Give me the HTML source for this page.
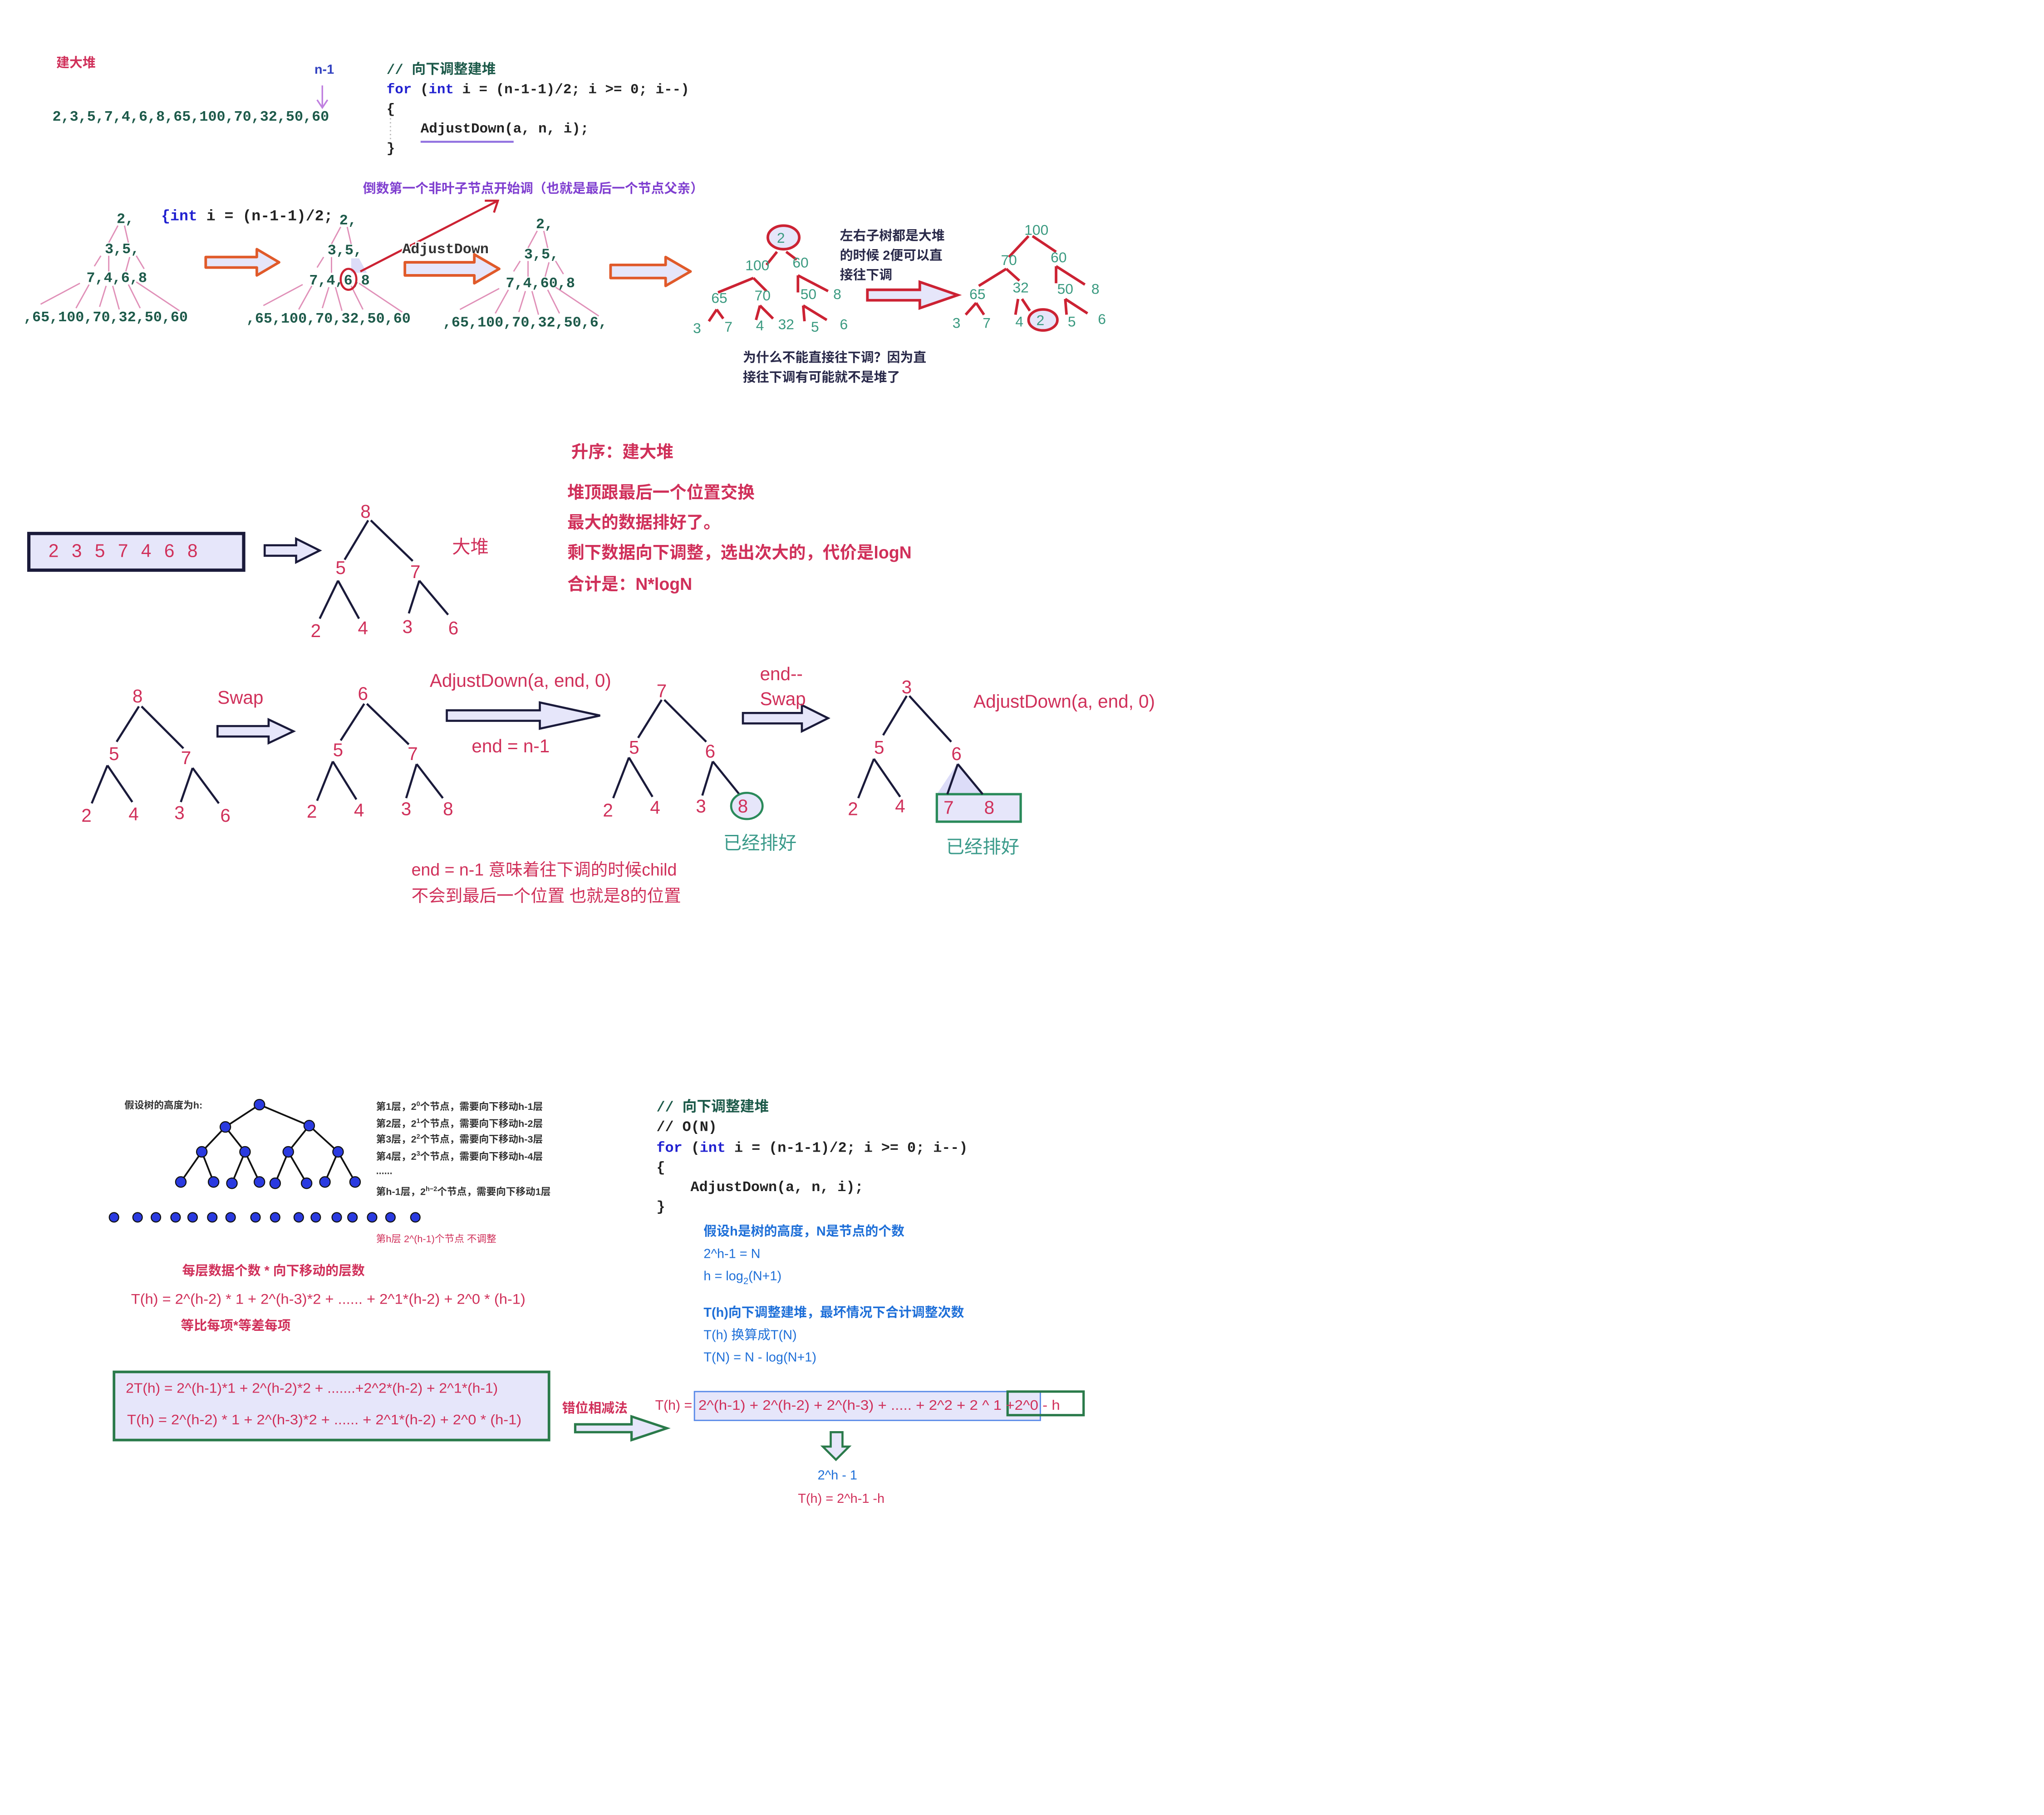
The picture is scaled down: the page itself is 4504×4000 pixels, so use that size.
<!DOCTYPE html>
<html><head><meta charset="utf-8">
<style>
html,body{margin:0;padding:0;background:#fff;}
svg{display:block;}
.m{font-family:"Liberation Mono","Noto Sans CJK SC",monospace;}
.s{font-family:"Liberation Sans","Noto Sans CJK SC",sans-serif;}
</style></head>
<body>
<svg width="4504" height="4000" viewBox="0 0 1560 1385" xmlns="http://www.w3.org/2000/svg">
<rect width="1560" height="1385" fill="#fff"/>

<!-- ===== TOP SECTION ===== -->
<text x="43" y="51" class="s" font-size="10" font-weight="bold" fill="#d0305a">建大堆</text>
<text x="240" y="56" class="s" font-size="10" font-weight="bold" fill="#3040c0">n-1</text>
<line x1="246" y1="65" x2="246" y2="82" stroke="#c080e0" stroke-width="1.2"/>
<polyline points="242,76 246,82 250,76" fill="none" stroke="#c080e0" stroke-width="1.2"/>
<text x="40" y="92" class="m" font-size="11" font-weight="bold" fill="#1d5a4a">2,3,5,7,4,6,8,65,100,70,32,50,60</text>

<g class="m" font-size="10.7" font-weight="bold">
<text x="295" y="56" fill="#1d5a4a">// 向下调整建堆</text>
<text x="295" y="71"><tspan fill="#2020d0">for</tspan><tspan fill="#222"> (</tspan><tspan fill="#2020d0">int</tspan><tspan fill="#222"> i = (n-1-1)/2; i &gt;= 0; i--)</tspan></text>
<text x="295" y="86" fill="#222">{</text>
<text x="321" y="101" fill="#222">AdjustDown(a, n, i);</text>
<text x="295" y="116" fill="#222">}</text>
</g>
<line x1="298" y1="90" x2="298" y2="108" stroke="#bbb" stroke-dasharray="1,2"/>
<line x1="321" y1="108" x2="392" y2="108" stroke="#9070e0" stroke-width="1.5"/>

<text x="277" y="147" class="s" font-size="10" font-weight="bold" fill="#8040d0">倒数第一个非叶子节点开始调（也就是最后一个节点父亲）</text>
<text x="123" y="168" class="m" font-size="11.5" font-weight="bold"><tspan fill="#2020d0">{int</tspan><tspan fill="#222"> i = (n-1-1)/2;</tspan></text>

<!-- tree 1 -->
<g>
<g stroke="#e090b8" stroke-width="1">
<line x1="90" y1="172" x2="83" y2="185"/><line x1="95" y1="172" x2="98" y2="185"/>
<line x1="77" y1="195" x2="72" y2="203"/><line x1="83" y1="195" x2="83" y2="207"/>
<line x1="99" y1="196" x2="96" y2="207"/><line x1="104" y1="195" x2="110" y2="205"/>
<line x1="61" y1="216" x2="31" y2="232"/><line x1="68" y1="217" x2="58" y2="235"/>
<line x1="81" y1="218" x2="76" y2="234"/><line x1="86" y1="218" x2="91" y2="236"/>
<line x1="98" y1="217" x2="107" y2="235"/><line x1="104" y1="215" x2="137" y2="237"/>
</g>
<g class="m" font-size="11" font-weight="bold" fill="#1d5a4a">
<text x="89" y="170">2,</text>
<text x="80" y="193">3,5,</text>
<text x="66" y="215">7,4,6,8</text>
<text x="18" y="245">,65,100,70,32,50,60</text>
</g>
</g>
<!-- tree 2 -->
<g transform="translate(170,1)">
<g stroke="#e090b8" stroke-width="1">
<line x1="90" y1="172" x2="83" y2="185"/><line x1="95" y1="172" x2="98" y2="185"/>
<line x1="77" y1="195" x2="72" y2="203"/><line x1="83" y1="195" x2="83" y2="207"/>
<line x1="61" y1="216" x2="31" y2="232"/><line x1="68" y1="217" x2="58" y2="235"/>
<line x1="81" y1="218" x2="76" y2="234"/><line x1="86" y1="218" x2="91" y2="236"/>
<line x1="98" y1="217" x2="107" y2="235"/><line x1="104" y1="215" x2="137" y2="237"/>
</g>
<polygon points="98,196 104,196 110,207 98,207" fill="#dcdcf8"/>
<g class="m" font-size="11" font-weight="bold" fill="#1d5a4a">
<text x="89" y="170">2,</text>
<text x="80" y="193">3,5,</text>
<text x="66" y="216">7,4,6,8</text>
<text x="18" y="245">,65,100,70,32,50,60</text>
</g>
<ellipse cx="96" cy="212" rx="6" ry="8" fill="none" stroke="#cc2233" stroke-width="1.6"/>
</g>
<line x1="275" y1="207" x2="380" y2="153" stroke="#cc2233" stroke-width="1.6"/>
<polyline points="370,153 380,153 377,162" fill="none" stroke="#cc2233" stroke-width="1.6"/>
<text x="307" y="193" class="m" font-size="11" font-weight="bold" fill="#333" stroke="#fff" stroke-width="2" paint-order="stroke">AdjustDown</text>
<!-- tree 3 -->
<g transform="translate(320,4)">
<g stroke="#e090b8" stroke-width="1">
<line x1="90" y1="172" x2="83" y2="185"/><line x1="95" y1="172" x2="98" y2="185"/>
<line x1="77" y1="195" x2="72" y2="203"/><line x1="83" y1="195" x2="83" y2="207"/>
<line x1="99" y1="196" x2="96" y2="207"/><line x1="104" y1="195" x2="110" y2="205"/>
<line x1="61" y1="216" x2="31" y2="232"/><line x1="68" y1="217" x2="58" y2="235"/>
<line x1="81" y1="218" x2="76" y2="234"/><line x1="86" y1="218" x2="91" y2="236"/>
<line x1="98" y1="217" x2="107" y2="235"/><line x1="104" y1="215" x2="137" y2="237"/>
</g>
<g class="m" font-size="11" font-weight="bold" fill="#1d5a4a">
<text x="89" y="170">2,</text>
<text x="80" y="193">3,5,</text>
<text x="66" y="215">7,4,60,8</text>
<text x="18" y="245">,65,100,70,32,50,6,</text>
</g>
</g>

<!-- orange arrows -->
<g fill="#e6e6fa" stroke="#e05a2a" stroke-width="2" stroke-linejoin="round">
<polygon points="157,196 196,196 196,190 213,200 196,210 196,204 157,204"/>
<polygon points="309,200 362,200 362,194 381,205 362,216 362,210 309,210"/>
<polygon points="466,202 508,202 508,196 527,207 508,218 508,212 466,212"/>
</g>

<!-- tree 4 red -->
<g stroke="#cc2233" stroke-width="2" fill="none">
<line x1="593" y1="192" x2="585" y2="202"/><line x1="600" y1="192" x2="608" y2="198"/>
<line x1="575" y1="212" x2="548" y2="223"/><line x1="575" y1="212" x2="585" y2="222"/>
<line x1="609" y1="210" x2="609" y2="223"/><line x1="609" y1="210" x2="632" y2="222"/>
<line x1="547" y1="236" x2="541" y2="245"/><line x1="547" y1="236" x2="552" y2="243"/>
<line x1="580" y1="233" x2="577" y2="244"/><line x1="580" y1="233" x2="590" y2="243"/>
<line x1="613" y1="233" x2="614" y2="245"/><line x1="613" y1="233" x2="631" y2="244"/>
</g>
<ellipse cx="598" cy="181" rx="12" ry="9" fill="#e6e6fa" stroke="#cc2233" stroke-width="2"/>
<g class="s" font-size="11" fill="#3a9a80" text-anchor="middle">
<text x="596" y="185">2</text>
<text x="578" y="206">100</text><text x="611" y="204">60</text>
<text x="549" y="231">65</text><text x="582" y="229">70</text><text x="617" y="228">50</text><text x="639" y="228">8</text>
<text x="532" y="254">3</text><text x="556" y="253">7</text><text x="580" y="252">4</text><text x="600" y="251">32</text><text x="622" y="253">5</text><text x="644" y="251">6</text>
</g>
<g class="s" font-size="10" font-weight="bold" fill="#2a2a4a">
<text x="641" y="183">左右子树都是大堆</text>
<text x="641" y="198">的时候 2便可以直</text>
<text x="641" y="213">接往下调</text>
</g>
<polygon points="662,221 702,221 702,215 731,225 702,235 702,229 662,229" fill="#e6e6fa" stroke="#cc2233" stroke-width="2"/>

<!-- tree 5 -->
<g stroke="#cc2233" stroke-width="2" fill="none">
<line x1="785" y1="180" x2="770" y2="196"/><line x1="788" y1="180" x2="806" y2="192"/>
<line x1="768" y1="205" x2="747" y2="218"/><line x1="768" y1="205" x2="778" y2="214"/>
<line x1="806" y1="203" x2="806" y2="216"/><line x1="806" y1="203" x2="828" y2="217"/>
<line x1="745" y1="231" x2="737" y2="240"/><line x1="745" y1="231" x2="751" y2="240"/>
<line x1="777" y1="228" x2="775" y2="240"/><line x1="780" y1="228" x2="786" y2="237"/>
<line x1="813" y1="228" x2="814" y2="240"/><line x1="813" y1="228" x2="830" y2="239"/>
</g>
<ellipse cx="796" cy="244" rx="11" ry="8" fill="#e6e6fa" stroke="#cc2233" stroke-width="2"/>
<g class="s" font-size="11" fill="#3a9a80" text-anchor="middle">
<text x="791" y="179">100</text>
<text x="770" y="202">70</text><text x="808" y="200">60</text>
<text x="746" y="228">65</text><text x="779" y="223">32</text><text x="813" y="224">50</text><text x="836" y="224">8</text>
<text x="730" y="250">3</text><text x="753" y="250">7</text><text x="778" y="249">4</text><text x="794" y="248">2</text><text x="818" y="249">5</text><text x="841" y="247">6</text>
</g>
<g class="s" font-size="10" font-weight="bold" fill="#2a2a4a">
<text x="567" y="276">为什么不能直接往下调？因为直</text>
<text x="567" y="291">接往下调有可能就不是堆了</text>
</g>

<!-- ===== MIDDLE SECTION ===== -->
<g class="s" font-size="13" font-weight="bold" fill="#d0305a">
<text x="436" y="349">升序：建大堆</text>
<text x="433" y="380">堆顶跟最后一个位置交换</text>
<text x="433" y="403">最大的数据排好了。</text>
<text x="433" y="426">剩下数据向下调整，选出次大的，代价是logN</text>
<text x="433" y="450">合计是：N*logN</text>
</g>
<rect x="22" y="407" width="164" height="28" fill="#e6e6fa" stroke="#1a1a3a" stroke-width="2.5"/>
<text x="37" y="425" class="s" font-size="14" fill="#d0305a" letter-spacing="3">2 3 5 7 4 6 8</text>
<g fill="#e6e6fa" stroke="#1a1a3a" stroke-width="1.6">
<polygon points="202,416 226,416 226,411 244,420 226,429 226,424 202,424"/>
<polygon points="166,554 205,554 205,549 224,558 205,567 205,562 166,562"/>
<polygon points="341,542 412,542 412,536 458,546 412,556 412,550 341,550"/>
<polygon points="567,544 612,544 612,538 632,548 612,558 612,552 567,552"/>
</g>
<g stroke="#1a1a3a" stroke-width="1.6" fill="none">
<line x1="281" y1="397" x2="263" y2="427"/><line x1="283" y1="397" x2="315" y2="428"/>
<line x1="258" y1="443" x2="244" y2="472"/><line x1="258" y1="443" x2="274" y2="472"/>
<line x1="320" y1="443" x2="312" y2="468"/><line x1="320" y1="443" x2="342" y2="469"/>
</g>
<g class="s" font-size="14" fill="#d0305a" text-anchor="middle">
<text x="279" y="395">8</text><text x="260" y="438">5</text><text x="317" y="441">7</text>
<text x="241" y="486">2</text><text x="277" y="484">4</text><text x="311" y="483">3</text><text x="346" y="484">6</text>
</g>
<text x="345" y="422" class="s" font-size="14" fill="#d0305a">大堆</text>

<!-- tree A -->
<g stroke="#1a1a3a" stroke-width="1.6" fill="none">
<line x1="106" y1="539" x2="89" y2="566"/><line x1="108" y1="539" x2="140" y2="571"/>
<line x1="82" y1="584" x2="70" y2="613"/><line x1="82" y1="584" x2="101" y2="612"/>
<line x1="147" y1="586" x2="138" y2="612"/><line x1="147" y1="586" x2="167" y2="613"/>
</g>
<g class="s" font-size="14" fill="#d0305a" text-anchor="middle">
<text x="105" y="536">8</text><text x="87" y="580">5</text><text x="142" y="583">7</text>
<text x="66" y="627">2</text><text x="102" y="626">4</text><text x="137" y="625">3</text><text x="172" y="627">6</text>
</g>
<text x="166" y="537" class="s" font-size="14" fill="#d0305a">Swap</text>
<!-- tree B -->
<g stroke="#1a1a3a" stroke-width="1.6" fill="none">
<line x1="278" y1="537" x2="260" y2="565"/><line x1="280" y1="537" x2="312" y2="568"/>
<line x1="254" y1="581" x2="242" y2="611"/><line x1="254" y1="581" x2="272" y2="610"/>
<line x1="318" y1="583" x2="310" y2="609"/><line x1="318" y1="583" x2="338" y2="609"/>
</g>
<g class="s" font-size="14" fill="#d0305a" text-anchor="middle">
<text x="277" y="534">6</text><text x="258" y="577">5</text><text x="315" y="580">7</text>
<text x="238" y="624">2</text><text x="274" y="623">4</text><text x="310" y="622">3</text><text x="342" y="622">8</text>
</g>
<text x="328" y="524" class="s" font-size="14" fill="#d0305a">AdjustDown(a, end, 0)</text>
<text x="360" y="574" class="s" font-size="14" fill="#d0305a">end = n-1</text>
<!-- tree C -->
<g stroke="#1a1a3a" stroke-width="1.6" fill="none">
<line x1="505" y1="534" x2="487" y2="563"/><line x1="507" y1="534" x2="539" y2="566"/>
<line x1="480" y1="578" x2="468" y2="609"/><line x1="480" y1="578" x2="498" y2="608"/>
<line x1="544" y1="581" x2="536" y2="607"/><line x1="544" y1="581" x2="565" y2="607"/>
</g>
<ellipse cx="570" cy="615" rx="12" ry="10" fill="#e6e6fa" stroke="#2a8a5a" stroke-width="1.6"/>
<g class="s" font-size="14" fill="#d0305a" text-anchor="middle">
<text x="505" y="532">7</text><text x="484" y="575">5</text><text x="542" y="578">6</text>
<text x="464" y="623">2</text><text x="500" y="621">4</text><text x="535" y="620">3</text><text x="567" y="620">8</text>
</g>
<text x="580" y="519" class="s" font-size="14" fill="#d0305a">end--</text>
<text x="580" y="538" class="s" font-size="14" fill="#d0305a">Swap</text>
<!-- tree D -->
<polygon points="731,582 715,606 750,606" fill="#dcdcf8"/>
<rect x="715" y="606" width="64" height="21" fill="#e6e6fa" stroke="#2a8a5a" stroke-width="1.8"/>
<g stroke="#1a1a3a" stroke-width="1.6" fill="none">
<line x1="692" y1="531" x2="674" y2="561"/><line x1="694" y1="531" x2="726" y2="566"/>
<line x1="667" y1="579" x2="655" y2="609"/><line x1="667" y1="579" x2="687" y2="608"/>
<line x1="731" y1="583" x2="723" y2="606"/><line x1="731" y1="583" x2="750" y2="606"/>
</g>
<g class="s" font-size="14" fill="#d0305a" text-anchor="middle">
<text x="692" y="529">3</text><text x="671" y="575">5</text><text x="730" y="580">6</text>
<text x="651" y="622">2</text><text x="687" y="620">4</text><text x="724" y="621">7</text><text x="755" y="621">8</text>
</g>
<text x="743" y="540" class="s" font-size="14" fill="#d0305a">AdjustDown(a, end, 0)</text>
<text x="552" y="648" class="s" font-size="14" fill="#3a9a8a">已经排好</text>
<text x="722" y="651" class="s" font-size="14" fill="#3a9a8a">已经排好</text>
<text x="314" y="668" class="s" font-size="13" fill="#d0305a">end = n-1 意味着往下调的时候child</text>
<text x="314" y="688" class="s" font-size="13" fill="#d0305a">不会到最后一个位置 也就是8的位置</text>

<!-- ===== BOTTOM SECTION ===== -->
<text x="95" y="846" class="s" font-size="7.5" font-weight="bold" fill="#333">假设树的高度为h:</text>
<g stroke="#111" stroke-width="1.3">
<line x1="198" y1="843" x2="172" y2="860"/><line x1="198" y1="843" x2="236" y2="859"/>
<line x1="172" y1="860" x2="154" y2="879"/><line x1="172" y1="860" x2="187" y2="879"/>
<line x1="236" y1="859" x2="220" y2="879"/><line x1="236" y1="859" x2="258" y2="879"/>
<line x1="154" y1="879" x2="138" y2="902"/><line x1="154" y1="879" x2="163" y2="902"/>
<line x1="187" y1="879" x2="177" y2="903"/><line x1="187" y1="879" x2="198" y2="902"/>
<line x1="220" y1="879" x2="210" y2="903"/><line x1="220" y1="879" x2="234" y2="903"/>
<line x1="258" y1="879" x2="248" y2="902"/><line x1="258" y1="879" x2="271" y2="902"/>
</g>
<g fill="#2a3ae0" stroke="#111" stroke-width="0.8">
<circle cx="198" cy="843" r="4"/><circle cx="172" cy="860" r="4"/><circle cx="236" cy="859" r="4"/>
<circle cx="154" cy="879" r="4"/><circle cx="187" cy="879" r="4"/><circle cx="220" cy="879" r="4"/><circle cx="258" cy="879" r="4"/>
<circle cx="138" cy="902" r="4"/><circle cx="163" cy="902" r="4"/><circle cx="177" cy="903" r="4"/><circle cx="198" cy="902" r="4"/>
<circle cx="210" cy="903" r="4"/><circle cx="234" cy="903" r="4"/><circle cx="248" cy="902" r="4"/><circle cx="271" cy="902" r="4"/>
</g>
<g fill="#2a3ae0" stroke="#111" stroke-width="0.8">
<circle cx="87" cy="929" r="3.6"/><circle cx="105" cy="929" r="3.6"/><circle cx="119" cy="929" r="3.6"/><circle cx="134" cy="929" r="3.6"/>
<circle cx="147" cy="929" r="3.6"/><circle cx="162" cy="929" r="3.6"/><circle cx="176" cy="929" r="3.6"/><circle cx="195" cy="929" r="3.6"/>
<circle cx="210" cy="929" r="3.6"/><circle cx="228" cy="929" r="3.6"/><circle cx="241" cy="929" r="3.6"/><circle cx="257" cy="929" r="3.6"/>
<circle cx="269" cy="929" r="3.6"/><circle cx="284" cy="929" r="3.6"/><circle cx="298" cy="929" r="3.6"/><circle cx="317" cy="929" r="3.6"/>
</g>
<g class="s" font-size="7.5" font-weight="bold" fill="#333">
<text x="287" y="847">第1层，2<tspan font-size="5" dy="-3">0</tspan><tspan dy="3">个节点，需要向下移动h-1层</tspan></text>
<text x="287" y="860">第2层，2<tspan font-size="5" dy="-3">1</tspan><tspan dy="3">个节点，需要向下移动h-2层</tspan></text>
<text x="287" y="872">第3层，2<tspan font-size="5" dy="-3">2</tspan><tspan dy="3">个节点，需要向下移动h-3层</tspan></text>
<text x="287" y="885">第4层，2<tspan font-size="5" dy="-3">3</tspan><tspan dy="3">个节点，需要向下移动h-4层</tspan></text>
<text x="287" y="896">......</text>
<text x="287" y="912">第h-1层，2<tspan font-size="5" dy="-3">h−2</tspan><tspan dy="3">个节点，需要向下移动1层</tspan></text>
</g>
<text x="287" y="948" class="s" font-size="7.5" fill="#d0305a">第h层 2^(h-1)个节点  不调整</text>
<g class="s" font-size="10" fill="#d0305a">
<text x="139" y="973" font-weight="bold">每层数据个数 * 向下移动的层数</text>
<text x="100" y="995" font-size="11" textLength="301" lengthAdjust="spacingAndGlyphs">T(h) =  2^(h-2) * 1 + 2^(h-3)*2 + ...... + 2^1*(h-2) + 2^0 * (h-1)</text>
<text x="138" y="1015" font-weight="bold">等比每项*等差每项</text>
</g>
<rect x="87" y="1047" width="332" height="52" fill="#e6e6fa" stroke="#2a7a4a" stroke-width="2"/>
<g class="s" font-size="10.5" fill="#d0305a">
<text x="96" y="1063" textLength="284" lengthAdjust="spacingAndGlyphs">2T(h) = 2^(h-1)*1 + 2^(h-2)*2 + .......+2^2*(h-2) + 2^1*(h-1)</text>
<text x="97" y="1087" textLength="301" lengthAdjust="spacingAndGlyphs">T(h) =  2^(h-2) * 1 + 2^(h-3)*2 + ...... + 2^1*(h-2) + 2^0 * (h-1)</text>
</g>
<text x="429" y="1078" class="s" font-size="10" font-weight="bold" fill="#d0305a">错位相减法</text>
<polygon points="439,1087 482,1087 482,1081 509,1090 482,1099 482,1093 439,1093" fill="#e6e6fa" stroke="#2a7a4a" stroke-width="1.8"/>

<g class="m" font-size="11" font-weight="bold">
<text x="501" y="848" fill="#1d5a4a">// 向下调整建堆</text>
<text x="501" y="863" fill="#222">// O(N)</text>
<text x="501" y="879"><tspan fill="#2020d0">for</tspan><tspan fill="#222"> (</tspan><tspan fill="#2020d0">int</tspan><tspan fill="#222"> i = (n-1-1)/2; i &gt;= 0; i--)</tspan></text>
<text x="501" y="894" fill="#222">{</text>
<text x="527" y="909" fill="#222">AdjustDown(a, n, i);</text>
<text x="501" y="924" fill="#222">}</text>
</g>
<g class="s" font-size="10" fill="#1e6fd8">
<text x="537" y="943" font-weight="bold">假设h是树的高度，N是节点的个数</text>
<text x="537" y="960">2^h-1 = N</text>
<text x="537" y="977">h = log<tspan font-size="7" dy="3">2</tspan><tspan dy="-3">(N+1)</tspan></text>
<text x="537" y="1005" font-weight="bold">T(h)向下调整建堆，最坏情况下合计调整次数</text>
<text x="537" y="1022">T(h) 换算成T(N)</text>
<text x="537" y="1039">T(N) = N - log(N+1)</text>
</g>
<rect x="530" y="1062" width="264" height="22" fill="#e6e6fa" stroke="#5a8ae8" stroke-width="1"/>
<rect x="769" y="1062" width="58" height="18" fill="none" stroke="#2a7a4a" stroke-width="1.8"/>
<g class="s" font-size="10.5" fill="#d0305a">
<text x="500" y="1076">T(h) =</text>
<text x="533" y="1076" textLength="276" lengthAdjust="spacingAndGlyphs">2^(h-1) + 2^(h-2) + 2^(h-3) + ..... + 2^2 + 2 ^ 1 +2^0 - h</text>
</g>
<polygon points="634,1093 643,1093 643,1104 648,1104 638,1114 628,1104 634,1104" fill="#e6e6fa" stroke="#2a7a4a" stroke-width="1.6"/>
<text x="624" y="1129" class="s" font-size="10" fill="#1e6fd8">2^h - 1</text>
<text x="609" y="1147" class="s" font-size="10" fill="#d0305a">T(h) = 2^h-1 -h</text>
</svg>
</body></html>
